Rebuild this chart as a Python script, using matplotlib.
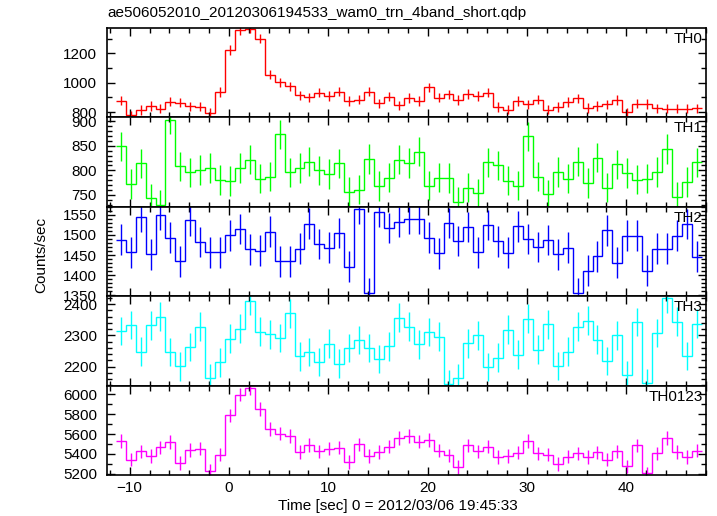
import numpy as np
import matplotlib.pyplot as plt
from matplotlib.ticker import MultipleLocator

plt.rcParams['font.family'] = ['Liberation Sans', 'DejaVu Sans']

# Bins de 1 s, tiempo relativo a 2012/03/06 19:45:33
t_start = -10.9
bin_size = 1.0

# Cuentas por segundo en cada banda
th0 = [878, 777, 814, 841, 823, 871, 864, 839, 837, 793, 936, 1223, 1359, 1368, 1301,
       1055, 1002, 975, 913, 899, 931, 908, 938, 876, 885, 938, 860, 904, 846, 895,
       874, 968, 897, 920, 881, 922, 910, 933, 835, 816, 874, 853, 885, 816, 835,
       869, 894, 828, 841, 853, 881, 798, 858, 855, 825, 823, 823, 823, 825]
th1 = [849, 772, 814, 743, 730, 903, 808, 796, 801, 805, 780, 778, 805, 822, 783,
       787, 873, 796, 805, 818, 800, 793, 814, 756, 761, 823, 768, 785, 822, 815,
       838, 769, 785, 784, 736, 765, 753, 816, 810, 779, 769, 869, 787, 751, 797,
       783, 818, 774, 826, 765, 812, 795, 781, 783, 797, 843, 746, 776, 816]
th2 = [1488, 1457, 1544, 1452, 1549, 1493, 1434, 1536, 1482, 1457, 1457, 1499, 1515, 1464, 1461,
       1508, 1434, 1434, 1466, 1528, 1477, 1468, 1505, 1421, 1565, 1355, 1558, 1517, 1532, 1540,
       1540, 1493, 1454, 1530, 1485, 1520, 1457, 1525, 1484, 1456, 1521, 1490, 1470, 1487, 1452,
       1468, 1355, 1411, 1447, 1511, 1431, 1498, 1498, 1411, 1466, 1466, 1498, 1527, 1446]
th3 = [2314, 2333, 2248, 2332, 2360, 2247, 2201, 2263, 2328, 2163, 2214, 2289, 2322, 2411, 2312,
       2303, 2292, 2371, 2233, 2247, 2215, 2273, 2209, 2260, 2285, 2260, 2224, 2265, 2357, 2328,
       2271, 2311, 2296, 2144, 2163, 2274, 2300, 2199, 2228, 2318, 2238, 2354, 2254, 2335, 2202,
       2248, 2328, 2347, 2286, 2218, 2300, 2173, 2343, 2147, 2308, 2419, 2344, 2234, 2338]
th0123 = [5532, 5344, 5426, 5377, 5466, 5519, 5311, 5440, 5453, 5228, 5393, 5786, 5994, 6057, 5852,
          5651, 5605, 5578, 5420, 5492, 5426, 5453, 5463, 5321, 5496, 5377, 5420, 5473, 5562, 5578,
          5525, 5539, 5433, 5387, 5268, 5486, 5426, 5473, 5367, 5377, 5413, 5529, 5407, 5393, 5298,
          5374, 5407, 5367, 5417, 5344, 5426, 5275, 5486, 5205, 5407, 5562, 5420, 5367, 5433]

names = ['TH0', 'TH1', 'TH2', 'TH3', 'TH0123']
series = [th0, th1, th2, th3, th0123]
errors = [32, 30, 38, 46, 68]
colors = ['#ff0000', '#00ff00', '#0000ff', '#00ffff', '#ff00ff']
ylims = [(764, 1374), (726, 908), (1348, 1570), (2139, 2426), (5190, 6085)]
major = [200, 50, 50, 100, 200]
minor = [100, 10, 10, 20, 100]

n = len(th0)
t = t_start + bin_size * np.arange(n)
edges = np.append(t - bin_size / 2, t[-1] + bin_size / 2)

fig = plt.figure(figsize=(7.17, 5.16), dpi=100)
axes = fig.subplots(5, 1, sharex=True, gridspec_kw=dict(hspace=0))
fig.subplots_adjust(left=0.149, right=0.985, top=0.946, bottom=0.0795)

for ax, name, y, err, c, yl, ma, mi in zip(axes, names, series, errors, colors, ylims, major, minor):
    y = np.array(y)
    ax.stairs(y, edges, baseline=None, color=c, lw=1.0)
    ax.errorbar(t, y, yerr=err, fmt='none', ecolor=c, elinewidth=1.0, capsize=0)
    ax.set_ylim(*yl)
    ax.yaxis.set_major_locator(MultipleLocator(ma))
    ax.yaxis.set_minor_locator(MultipleLocator(mi))
    ax.xaxis.set_major_locator(MultipleLocator(10))
    ax.xaxis.set_minor_locator(MultipleLocator(2))
    ax.tick_params(which='both', direction='in', top=True, right=True, labelsize=11, width=1)
    ax.tick_params(which='major', length=6)
    ax.tick_params(which='minor', length=3.5)
    ax.tick_params(axis='y', pad=7)
    ax.tick_params(axis='x', pad=4)
    for s in ax.spines.values():
        s.set_linewidth(1.2)
    ax.text(0.994, 0.955, name, transform=ax.transAxes, ha='right', va='top', fontsize=11)

axes[0].set_xlim(-12.3, 48.05)

fig.text(107 / 717, 1 - 13 / 516, 'ae506052010_20120306194533_wam0_trn_4band_short.qdp',
         ha='left', va='center', fontsize=11)
fig.text(398 / 717, 1 - 506 / 516, 'Time [sec] 0 = 2012/03/06 19:45:33',
         ha='center', va='center', fontsize=11)
fig.text(41 / 717, 1 - 255 / 516, 'Counts/sec', rotation=90, ha='center', va='center', fontsize=11)

fig.savefig('out.png', dpi=100)
